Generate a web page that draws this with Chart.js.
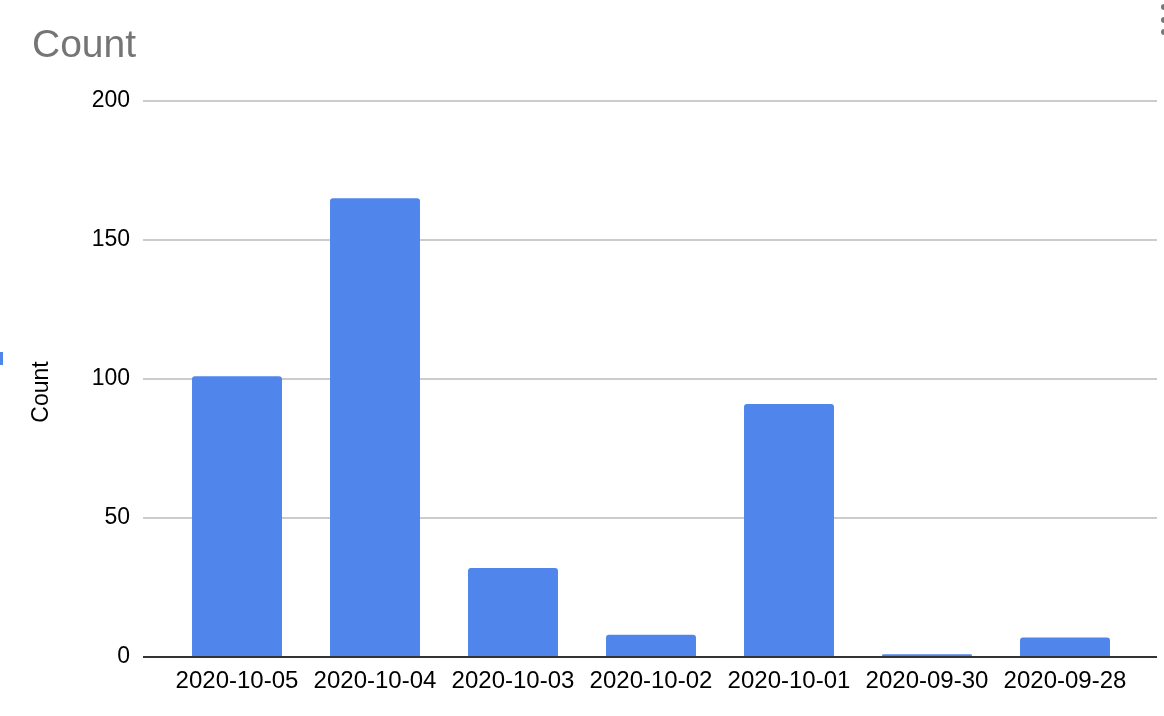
<!DOCTYPE html>
<html>
<head>
<meta charset="utf-8">
<script src="https://cdn.jsdelivr.net/npm/chart.js@4"></script>
<style>
  body { margin: 0; background: #fff; }
  #wrap { width: 1164px; height: 716px; position: relative; }
</style>
</head>
<body>
<div id="wrap"><canvas id="chart"></canvas></div>
<script>
var labels = ['2020-10-05', '2020-10-04', '2020-10-03', '2020-10-02', '2020-10-01', '2020-09-30', '2020-09-28'];
var counts = [101, 165, 32, 8, 91, 1, 7];
var yTicks = [0, 50, 100, 150, 200];

var FONT = '"Liberation Sans", Arial, Helvetica, sans-serif';

// grid lines wider than the plot area, baseline, titles and small decorations
var decor = {
    id: 'decor',
    beforeDatasetsDraw: function(chart) {
        var ctx = chart.ctx, y = chart.scales.y;
        ctx.save();
        ctx.strokeStyle = '#cccccc';
        ctx.lineWidth = 2;
        yTicks.forEach(function(v) {
            if (v === 0) return;
            var py = Math.round(y.getPixelForValue(v));
            ctx.beginPath();
            ctx.moveTo(143, py);
            ctx.lineTo(1157, py);
            ctx.stroke();
        });
        ctx.restore();
    },
    afterDatasetsDraw: function(chart) {
        var ctx = chart.ctx, y = chart.scales.y;
        ctx.save();
        var py = Math.round(y.getPixelForValue(0));
        ctx.strokeStyle = '#333333';
        ctx.lineWidth = 2;
        ctx.beginPath();
        ctx.moveTo(143, py);
        ctx.lineTo(1157, py);
        ctx.stroke();

        ctx.fillStyle = '#757575';
        ctx.font = '39px ' + FONT;
        ctx.textBaseline = 'alphabetic';
        ctx.textAlign = 'left';
        ctx.fillText('Count', 32, 57);

        // y axis title
        ctx.save();
        ctx.translate(42, 392);
        ctx.rotate(-Math.PI / 2);
        ctx.fillStyle = '#000';
        ctx.font = '23px ' + FONT;
        ctx.textAlign = 'center';
        ctx.textBaseline = 'middle';
        ctx.fillText('Count', 0, 0);
        ctx.restore();

        ctx.fillStyle = '#777777';
        [7, 20, 32].forEach(function(dy) {
            ctx.beginPath();
            ctx.arc(1164, dy, 3, 0, Math.PI * 2);
            ctx.fill();
        });
        ctx.fillStyle = '#4f86ec';
        ctx.fillRect(0, 352, 3, 13);
        ctx.restore();
    }
};

new Chart(document.getElementById('chart'), {
    type: 'bar',
    data: {
        labels: labels,
        datasets: [{
            label: 'Count',
            data: counts,
            backgroundColor: '#5086ec',
            borderRadius: { topLeft: 3, topRight: 3 },
            borderSkipped: 'bottom',
            barPercentage: 0.652,
            categoryPercentage: 1.0
        }]
    },
    options: {
        responsive: true,
        maintainAspectRatio: false,
        animation: false,
        layout: { padding: { top: 101, right: 30, left: 32, bottom: 0 } },
        plugins: {
            legend: { display: false },
            tooltip: { enabled: false }
        },
        scales: {
            x: {
                grid: { display: false, drawTicks: false },
                border: { display: false },
                ticks: {
                    color: '#000',
                    font: { family: FONT, size: 24 },
                    padding: 10,
                    maxRotation: 0,
                    autoSkip: false
                },
                afterFit: function(scale) { scale.height = 59; }
            },
            y: {
                min: 0,
                max: 200,
                grid: { display: false, drawTicks: false },
                border: { display: false },
                ticks: {
                    stepSize: 50,
                    color: '#000',
                    font: { family: FONT, size: 23 },
                    padding: 38
                },
                afterFit: function(scale) { scale.width = 136; }
            }
        }
    },
    plugins: [decor]
});
</script>
</body>
</html>
